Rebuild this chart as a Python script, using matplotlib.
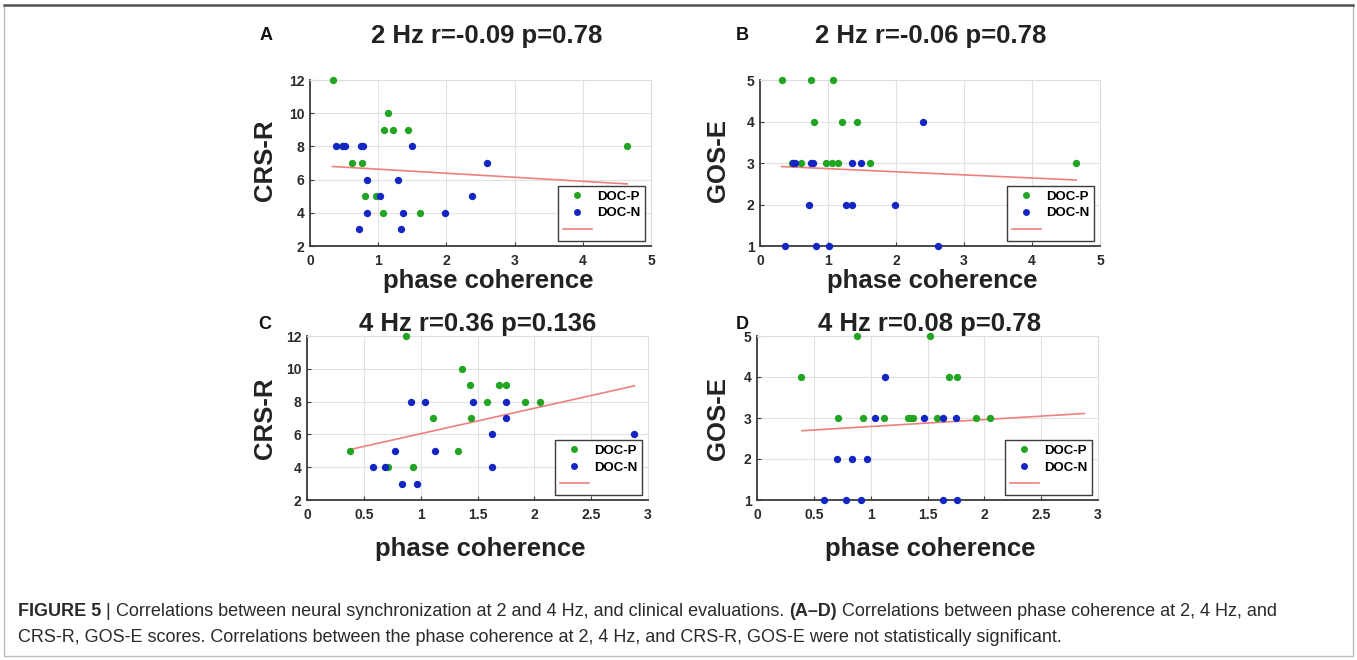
import numpy as np
import matplotlib
matplotlib.use('Agg')
import matplotlib.pyplot as plt
from matplotlib.lines import Line2D
from matplotlib.patches import Rectangle

# ---------------- data ----------------
# Panel A: 2 Hz phase coherence vs CRS-R
a_pos_x = [0.33, 0.47, 0.62, 0.76, 0.81, 0.97, 1.07, 1.08, 1.14, 1.22, 1.43, 1.62, 4.65]
a_pos_y = [12, 8, 7, 7, 5, 5, 4, 9, 10, 9, 9, 4, 8]
a_neg_x = [0.38, 0.49, 0.52, 0.75, 0.78, 1.49, 2.60, 0.84, 1.29, 1.02, 2.38, 0.84, 1.36, 1.98, 0.72, 1.33]
a_neg_y = [8, 8, 8, 8, 8, 8, 7, 6, 6, 5, 5, 4, 4, 4, 3, 3]
a_fit_x = [0.33, 4.65]
a_fit_y = [6.79, 5.74]

# Panel B: 2 Hz phase coherence vs GOS-E
b_pos_x = [0.32, 0.755, 1.08, 0.80, 1.21, 1.43, 0.47, 0.61, 0.97, 1.06, 1.14, 1.62, 4.65]
b_pos_y = [5, 5, 5, 4, 4, 4, 3, 3, 3, 3, 3, 3, 3]
b_neg_x = [2.39, 0.48, 0.52, 0.745, 0.78, 1.36, 1.49, 0.72, 1.27, 1.35, 1.99, 0.37, 0.83, 1.01, 2.62]
b_neg_y = [4, 3, 3, 3, 3, 3, 3, 2, 2, 2, 2, 1, 1, 1, 1]
b_fit_x = [0.32, 4.65]
b_fit_y = [2.915, 2.59]

# Panel C: 4 Hz phase coherence vs CRS-R
c_pos_x = [0.38, 0.71, 0.875, 0.935, 1.11, 1.33, 1.36, 1.43, 1.44, 1.58, 1.69, 1.75, 1.92, 2.05]
c_pos_y = [5, 4, 12, 4, 7, 5, 10, 9, 7, 8, 9, 9, 8, 8]
c_neg_x = [0.585, 0.69, 0.775, 0.835, 0.915, 0.965, 1.04, 1.13, 1.46, 1.63, 1.63, 1.75, 1.75, 2.88]
c_neg_y = [4, 4, 5, 3, 8, 3, 8, 5, 8, 6, 4, 8, 7, 6]
c_fit_x = [0.38, 2.88]
c_fit_y = [5.08, 8.96]

# Panel D: 4 Hz phase coherence vs GOS-E
d_pos_x = [0.385, 0.71, 0.88, 0.935, 1.115, 1.325, 1.35, 1.37, 1.525, 1.58, 1.69, 1.76, 1.93, 2.05]
d_pos_y = [4, 3, 5, 3, 3, 3, 3, 3, 5, 3, 4, 4, 3, 3]
d_neg_x = [1.13, 1.04, 1.47, 1.64, 1.75, 0.70, 0.84, 0.97, 0.59, 0.78, 0.915, 1.64, 1.76]
d_neg_y = [4, 3, 3, 3, 3, 2, 2, 2, 1, 1, 1, 1, 1]
d_fit_x = [0.395, 2.88]
d_fit_y = [2.69, 3.11]

titles = ["2 Hz r=-0.09 p=0.78", "2 Hz r=-0.06 p=0.78",
          "4 Hz r=0.36 p=0.136", "4 Hz r=0.08 p=0.78"]
letters = ["A", "B", "C", "D"]
ylabels = ["CRS-R", "GOS-E", "CRS-R", "GOS-E"]
xlabel = "phase coherence"
legend_labels = ["DOC-P", "DOC-N", ""]
xticks_top = [0, 1, 2, 3, 4, 5]
xticks_bottom = [0, 0.5, 1, 1.5, 2, 2.5, 3]
xticklabels_bottom = ["0", "0.5", "1", "1.5", "2", "2.5", "3"]
yticks_crs = [2, 4, 6, 8, 10, 12]
yticks_gos = [1, 2, 3, 4, 5]

caption_line1 = [("FIGURE 5", "bold"), (" | ", "normal"),
                 ("Correlations between neural synchronization at 2 and 4 Hz, and clinical evaluations. ", "normal"),
                 ("(A\u2013D)", "bold"),
                 (" Correlations between phase coherence at 2, 4 Hz, and", "normal")]
caption_line2 = [("CRS-R, GOS-E scores. Correlations between the phase coherence at 2, 4 Hz, and CRS-R, GOS-E were not statistically significant.", "normal")]

# ---------------- style ----------------
W, H = 1357, 660
GREEN = '#22a522'
BLUE = '#1326c4'
RED = '#ee8080'
FONT = ['Liberation Sans', 'DejaVu Sans']
plt.rcParams['font.family'] = FONT

fig = plt.figure(figsize=(W / 100, H / 100), dpi=100)

def px_axes(l, r, t, b):
    return fig.add_axes([l / W, 1 - b / H, (r - l) / W, (b - t) / H])

panels = [
    dict(box=(310, 651, 80, 246), px=a_pos_x, py=a_pos_y, nx=a_neg_x, ny=a_neg_y,
         fx=a_fit_x, fy=a_fit_y, xlim=(0, 5), ylim=(2, 12), xt=xticks_top,
         xtl=[str(v) for v in xticks_top], yt=yticks_crs),
    dict(box=(760, 1100, 80, 246), px=b_pos_x, py=b_pos_y, nx=b_neg_x, ny=b_neg_y,
         fx=b_fit_x, fy=b_fit_y, xlim=(0, 5), ylim=(1, 5), xt=xticks_top,
         xtl=[str(v) for v in xticks_top], yt=yticks_gos),
    dict(box=(307, 648, 336, 500), px=c_pos_x, py=c_pos_y, nx=c_neg_x, ny=c_neg_y,
         fx=c_fit_x, fy=c_fit_y, xlim=(0, 3), ylim=(2, 12), xt=xticks_bottom,
         xtl=xticklabels_bottom, yt=yticks_crs),
    dict(box=(757, 1098, 336, 500), px=d_pos_x, py=d_pos_y, nx=d_neg_x, ny=d_neg_y,
         fx=d_fit_x, fy=d_fit_y, xlim=(0, 3), ylim=(1, 5), xt=xticks_bottom,
         xtl=xticklabels_bottom, yt=yticks_gos),
]

title_pos = [(487, 36), (931, 36), (478, 324), (930, 324)]
letter_pos = [(266, 36), (742, 36), (265, 324), (742, 324)]
ylabel_pos = [(265, 160), (718, 160), (265, 418), (718, 418)]
xlabel_pos = [(488, 281), (932, 281), (480, 549), (930, 549)]

for i, p in enumerate(panels):
    ax = px_axes(*p['box'])
    ax.scatter(p['px'], p['py'], s=28, color=GREEN, zorder=3, linewidths=0, clip_on=False)
    ax.scatter(p['nx'], p['ny'], s=28, color=BLUE, zorder=4, linewidths=0, clip_on=False)
    ax.plot(p['fx'], p['fy'], color=RED, lw=1.2, zorder=2)
    ax.set_xlim(*p['xlim'])
    ax.set_ylim(*p['ylim'])
    ax.set_xticks(p['xt'])
    ax.set_xticklabels(p['xtl'])
    ax.set_yticks(p['yt'])
    ax.grid(True, color='#e2e2e2', lw=0.8)
    ax.set_axisbelow(True)
    for s in ['left', 'bottom']:
        ax.spines[s].set_color('#3c3c3c')
        ax.spines[s].set_linewidth(1.3)
    for s in ['top', 'right']:
        ax.spines[s].set_color('#dedede')
        ax.spines[s].set_linewidth(0.8)
    ax.tick_params(direction='in', length=3, width=0.8, colors='#3c3c3c',
                   labelsize=10, pad=4, top=False, right=False)
    ax.tick_params(axis='x', pad=6)
    for lab in ax.get_xticklabels() + ax.get_yticklabels():
        lab.set_fontweight('bold')
        lab.set_color('#2a2a2a')
    handles = [Line2D([], [], ls='none', marker='o', ms=5, color=GREEN, mec='none'),
               Line2D([], [], ls='none', marker='o', ms=5, color=BLUE, mec='none'),
               Line2D([], [], color=RED, lw=1.2)]
    leg = ax.legend(handles, legend_labels, loc='lower right',
                    bbox_to_anchor=(1 - 6 / 341, 5 / 165), borderaxespad=0,
                    prop={'weight': 'bold', 'size': 9.5}, frameon=True,
                    fancybox=False, edgecolor='#3c3c3c', framealpha=1,
                    handlelength=2.2, handletextpad=0.4, labelspacing=0.35,
                    borderpad=0.35)
    leg.get_frame().set_linewidth(1.0)

    fig.text(title_pos[i][0] / W, 1 - title_pos[i][1] / H, titles[i], ha='center',
             va='center', fontsize=18.5, fontweight='bold', color='#222222')
    fig.text(letter_pos[i][0] / W, 1 - letter_pos[i][1] / H, letters[i], ha='center',
             va='center', fontsize=13, fontweight='bold', color='#111111')
    fig.text(ylabel_pos[i][0] / W, 1 - ylabel_pos[i][1] / H, ylabels[i], ha='center',
             va='center', rotation=90, fontsize=18.5, fontweight='bold', color='#222222')
    fig.text(xlabel_pos[i][0] / W, 1 - xlabel_pos[i][1] / H, xlabel, ha='center',
             va='center', fontsize=18.5, fontweight='bold', color='#222222')

# frame around the figure
fig.patches.append(Rectangle((4 / W, 4 / H), (W - 8) / W, (H - 9) / H,
                             transform=fig.transFigure, fill=False,
                             edgecolor='#bdbdbd', lw=1.0))
fig.add_artist(Line2D([4 / W, (W - 4) / W], [1 - 5 / H, 1 - 5 / H],
                      transform=fig.transFigure, color='#555555', lw=1.8))

# caption with mixed weights
renderer = fig.canvas.get_renderer()
CAP_FONT = ['Liberation Sans Narrow', 'Liberation Sans', 'DejaVu Sans']

def draw_segments(segs, x0, y, size):
    x = x0
    arts = []
    for txt, wt in segs:
        t = fig.text(x / W, 1 - y / H, txt, ha='left', va='center', fontsize=size,
                     fontweight=wt, family=CAP_FONT, color='#2a2a2a')
        bb = t.get_window_extent(renderer)
        x += bb.width
        arts.append(t)
    return arts, x - x0

# fit caption line 1 width to the reference (~1260 px)
arts, width = draw_segments(caption_line1, 18, 612, 12)
for a in arts:
    a.remove()
cap_size = 12 * 1260 / width
draw_segments(caption_line1, 18, 612, cap_size)
draw_segments(caption_line2, 18, 637, cap_size)

fig.savefig('out.png', dpi=100)
